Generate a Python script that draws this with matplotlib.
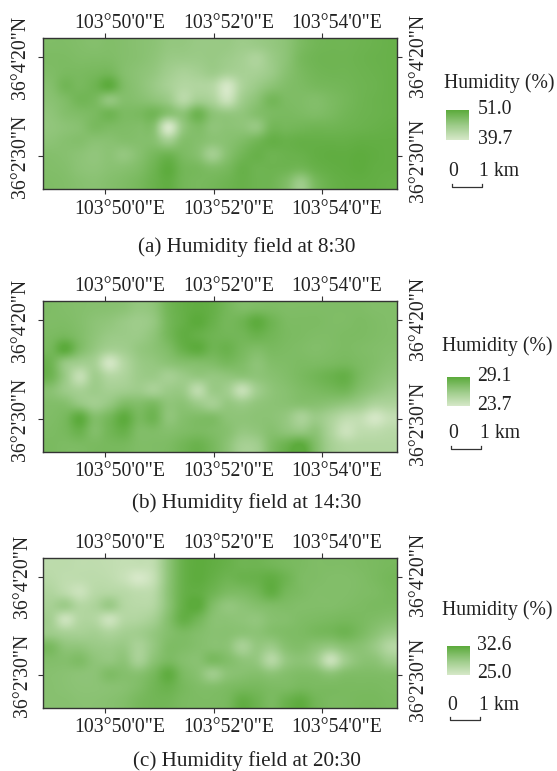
import numpy as np
import matplotlib
matplotlib.use("Agg")
import matplotlib.pyplot as plt
from matplotlib.colors import LinearSegmentedColormap

plt.rcParams['font.family'] = ['Liberation Serif', 'DejaVu Serif']

W, H = 557, 771
TEXT = '#222222'
FS = 14.2
FS_CAP = 15.2

# Levels in percent of each panel's legend range (11 rows x 24 columns, top row first)
levels_a = [
 [72,72,70,68,70,68,65,62,56,55,52,52,52,48,50,55,62,75,82,84,84,86,88,90],
 [74,74,72,72,72,68,65,60,52,50,50,52,48,42,35,50,62,78,84,85,85,87,89,90],
 [72,76,76,78,80,68,62,56,45,38,42,48,40,40,40,50,65,76,82,84,84,86,88,90],
 [68,82,78,85,98,72,62,52,40,30,32,28,2,35,50,62,70,74,78,80,82,85,87,90],
 [64,72,82,78,58,68,66,60,50,26,42,35,10,45,62,80,74,72,70,75,80,85,88,90],
 [60,68,72,76,84,75,76,82,65,62,85,62,55,58,68,75,76,74,72,76,82,86,88,90],
 [58,62,66,76,74,72,70,66,0,55,72,60,62,60,55,80,80,82,84,84,86,88,90,92],
 [62,66,68,64,65,68,68,66,45,68,68,62,65,72,82,92,90,92,92,92,92,94,94,94],
 [68,66,62,58,62,56,66,78,85,75,66,44,66,82,90,86,88,90,94,96,96,98,96,94],
 [70,68,62,60,64,66,72,85,98,82,78,72,78,90,86,86,85,82,90,94,96,98,95,94],
 [72,70,66,64,68,72,78,88,95,82,78,80,85,90,86,84,72,50,78,90,94,95,94,92],
]
levels_b = [
 [72,70,68,66,65,62,55,60,82,92,96,92,80,72,74,74,72,72,72,72,72,72,70,70],
 [72,72,68,62,58,52,48,55,80,92,100,90,80,85,98,85,75,74,74,72,72,74,72,70],
 [75,78,70,60,52,50,50,60,80,95,92,85,82,82,88,82,76,74,72,72,74,74,72,70],
 [80,100,72,55,42,45,55,62,72,90,98,85,88,78,72,76,74,72,70,72,74,72,70,68],
 [85,55,45,40,4,30,50,56,62,68,70,72,78,72,62,70,72,74,74,76,78,74,70,65],
 [85,52,16,45,30,35,48,50,42,50,55,55,58,60,60,65,70,76,82,88,92,76,66,60],
 [65,50,40,48,42,45,48,40,50,50,22,50,45,15,45,60,66,72,76,80,82,68,58,50],
 [70,68,55,45,55,72,70,75,60,62,50,42,55,50,58,62,64,66,66,62,56,48,35,35],
 [72,78,98,70,80,98,78,85,60,68,72,72,62,60,62,62,55,38,50,38,22,18,2,15],
 [74,78,88,70,82,90,72,72,68,72,75,72,66,55,58,66,60,55,60,35,10,20,20,25],
 [76,74,75,76,78,78,72,72,74,82,88,78,62,42,45,72,88,100,70,42,30,30,30,30],
]
levels_c = [
 [22,22,20,20,18,15,15,20,60,90,98,95,90,85,85,82,78,75,72,72,72,74,76,78],
 [25,20,20,22,20,12,0,15,60,90,98,92,85,88,90,95,85,74,72,70,70,72,76,80],
 [32,22,10,25,28,25,20,25,62,90,95,85,75,75,82,95,80,74,70,70,70,72,74,78],
 [40,48,30,35,50,30,25,30,62,92,100,72,58,62,68,72,72,70,70,70,72,74,76,76],
 [42,10,30,30,10,28,32,42,68,92,82,65,62,60,58,66,68,72,74,76,78,76,72,68],
 [48,40,40,42,35,42,45,55,68,75,70,65,65,62,62,68,72,74,78,80,85,76,64,52],
 [76,60,58,52,50,52,38,55,72,72,68,65,62,40,55,50,66,70,62,55,64,64,52,30],
 [70,68,72,60,56,60,40,62,75,68,65,76,70,60,55,28,55,62,50,12,46,62,62,48],
 [66,64,62,62,72,68,66,78,96,75,65,48,62,66,68,62,68,72,70,62,70,72,72,70],
 [66,64,62,62,64,66,72,82,88,78,72,70,74,78,78,74,74,78,76,76,76,76,76,74],
 [66,66,64,64,66,70,78,82,82,76,74,74,78,94,86,76,88,96,82,76,76,78,78,76],
]
ranges = [(39.7, 51.0), (23.7, 29.1), (25.0, 32.6)]
captions = ['(a) Humidity field at 8:30', '(b) Humidity field at 14:30', '(c) Humidity field at 20:30']
lon_ticks = [50, 52, 54]
lon_labels = ['103°50\'0"E', '103°52\'0"E', '103°54\'0"E']
lat_ticks = [2.5, 13 / 3]
lat_labels = ['36°2\'30"N', '36°4\'20"N']

# layout in pixels: map top, map bottom, legend title y, swatch top, swatch bottom, scale text y, caption y, title x,
# left-label x, number x, swatch x, zero x, km x, scale bar x
layouts = [
 (38, 189, 83, 110, 140, 172, 247, 444, 20, 478, 446, 453, 479, 452),
 (301, 452, 346, 377, 406, 434, 503, 442, 20, 477, 447, 453, 480, 451),
 (558, 708, 610, 646, 675, 705, 761, 442, 23, 477, 447, 452, 479, 450),
]
MAP_X0, MAP_X1 = 43, 397
LON0, LON1 = 48.857, 55.382
LAT0, LAT1 = 1.889, 4.685

cmap = LinearSegmentedColormap.from_list('hum', ['#d6e8c8', '#9ccb88', '#5cab3c'])

fig = plt.figure(figsize=(W / 100, H / 100), dpi=100, facecolor='white')

def px_axes(x0, y0, x1, y1):
    return fig.add_axes([x0 / W, 1 - y1 / H, (x1 - x0) / W, (y1 - y0) / H])

def ftext(x, y, s, **kw):
    kw.setdefault('fontsize', FS)
    kw.setdefault('color', TEXT)
    return fig.text(x / W, 1 - y / H, s, **kw)

for lv, (lo, hi), cap, lay in zip([levels_a, levels_b, levels_c], ranges, captions, layouts):
    top, bot, ty, st, sb, sy, cy, tx, lx, nx, swx, zx, kx, bx = lay
    field = lo + np.array(lv, dtype=float) / 100 * (hi - lo)
    ax = px_axes(MAP_X0, top, MAP_X1, bot)
    ax.imshow(field, cmap=cmap, vmin=lo, vmax=hi, extent=[LON0, LON1, LAT0, LAT1],
              aspect='auto', interpolation='catrom', origin='upper')
    ax.set_xticks(lon_ticks)
    ax.set_yticks(lat_ticks)
    ax.tick_params(length=3.6, width=0.8, color='#333333', top=True, bottom=True, left=True, right=True,
                   labelleft=False, labelbottom=False)
    for tick, s in zip(lon_ticks, lon_labels):
        for yf, dy in ((1, 15), (0, -20)):
            ax.annotate(s, xy=(tick, yf), xycoords=('data', 'axes fraction'), xytext=(15, dy),
                        textcoords='offset pixels', ha='center', va='center', fontsize=FS, color=TEXT,
                        annotation_clip=False)
    for tick, s, dyr in zip(lat_ticks, lat_labels, (-4, 2)):
        ax.annotate(s, xy=(0, tick), xycoords=('axes fraction', 'data'), xytext=(lx - MAP_X0, 0),
                    textcoords='offset pixels', ha='center', va='center', rotation=90, fontsize=FS,
                    color=TEXT, annotation_clip=False)
        ax.annotate(s, xy=(1, tick), xycoords=('axes fraction', 'data'), xytext=(22, dyr),
                    textcoords='offset pixels', ha='center', va='center', rotation=90, fontsize=FS,
                    color=TEXT, annotation_clip=False)
    for s in ax.spines.values():
        s.set_linewidth(1.0)
        s.set_color('#333333')

    ftext(tx, ty, 'Humidity (%)', ha='left', va='center')
    sw = px_axes(swx, st, swx + 23, sb)
    sw.imshow(np.linspace(1, 0, 64).reshape(-1, 1), cmap=cmap, aspect='auto', vmin=0, vmax=1)
    sw.axis('off')
    ftext(nx, st - 1, f'{hi:.1f}', ha='left', va='center')
    ftext(nx, sb - 1, f'{lo:.1f}', ha='left', va='center')

    ftext(zx, sy, '0', ha='center', va='center')
    ftext(kx, sy, '1 km', ha='left', va='center')
    bar_y = sy + 15
    fig.add_artist(plt.Line2D(np.array([bx, bx, bx + 30, bx + 30]) / W,
                              1 - np.array([bar_y - 3, bar_y, bar_y, bar_y - 3]) / H,
                              color='#333333', lw=0.9))
    ftext(247, cy, cap, ha='center', va='center', fontsize=FS_CAP)

fig.savefig('out.png', dpi=100, facecolor='white')
